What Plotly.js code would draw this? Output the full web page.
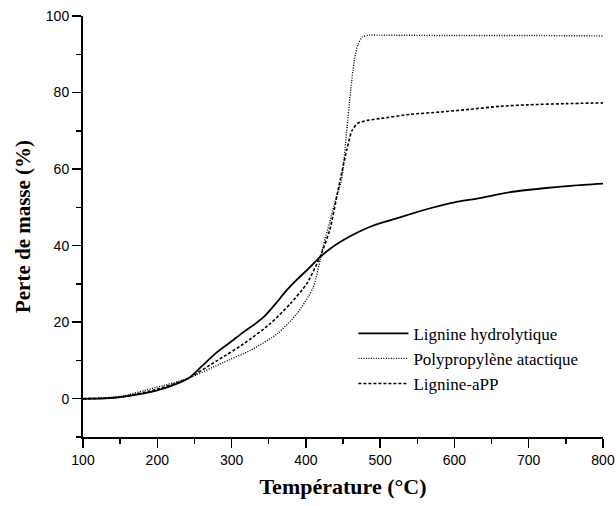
<!DOCTYPE html>
<html>
<head>
<meta charset="utf-8">
<script src="https://cdn.plot.ly/plotly-3.0.1.min.js"></script>
<style>html,body{margin:0;padding:0;background:#fff;}#chart{width:616px;height:506px;}</style>
</head>
<body>
<div id="chart"></div>
<script>
// Lignine hydrolytique (solid)
const ligT = [100,130,160,200,230,244,260,280,300,316,330,343,360,374,390,401,419,435,450,470,490,513,540,570,600,634,675,720,760,800];
const ligV = [0,0.1,0.7,2.2,4.2,5.6,8.5,12.1,15,17.4,19.3,21.3,25,28.3,31.5,33.5,37,39.5,41.4,43.5,45.2,46.6,48.2,49.9,51.3,52.4,54,55,55.7,56.2];
// Polypropylène atactique (dotted)
const ppT = [100,150,199,240,289,325,361,388,410,423,432,441,448,455,460,465,470,476,485,500,600,700,800];
const ppV = [0,0.6,3.0,5.2,9.5,12.6,16.9,22.2,29.1,39.6,46,52.7,57,70,80,88,92.5,94.5,95,95,94.9,94.9,94.8];
// Lignine-aPP (dashed)
const mixT = [100,150,200,240,280,316,352,379,401,419,432,446,455,462,470,485,500,540,580,620,661,700,750,800];
const mixV = [0,0.4,2.5,5.2,9.9,14.3,19.6,24.8,30,37,44,57,65,70,72,72.8,73.2,74.3,74.9,75.6,76.4,76.8,77.1,77.3];

const names = ['Lignine hydrolytique','Polypropylène atactique','Lignine-aPP'];
const xTicks = [100,200,300,400,500,600,700,800];
const yTicks = [0,20,40,60,80,100];

const traces = [
  {x: ligT, y: ligV, name: names[0], mode: 'lines', line: {color: '#000', width: 1.8, shape: 'spline', smoothing: 0.6}},
  {x: ppT, y: ppV, name: names[1], mode: 'lines', line: {color: '#000', width: 1.4, dash: '1px,1.5px', shape: 'spline', smoothing: 0.6}},
  {x: mixT, y: mixV, name: names[2], mode: 'lines', line: {color: '#000', width: 1.6, dash: '3px,2px', shape: 'spline', smoothing: 0.6}}
];

const axisCommon = {
  showgrid: false, zeroline: false, showline: true, linecolor: '#000', linewidth: 2,
  ticks: 'outside', ticklen: 9, tickwidth: 1.5, tickcolor: '#000',
  tickfont: {family: 'Liberation Sans, Arial, sans-serif', size: 14, color: '#000'}
};

const layout = {
  width: 616, height: 506,
  margin: {l: 83, r: 13, t: 16, b: 69},
  paper_bgcolor: '#fff', plot_bgcolor: '#fff',
  showlegend: true,
  legend: {x: 0.52, y: 0.288, xanchor: 'left', yanchor: 'top', bgcolor: 'rgba(0,0,0,0)', itemwidth: 50,
           font: {family: 'Liberation Serif, Times New Roman, serif', size: 17, color: '#000'}},
  xaxis: Object.assign({}, axisCommon, {
    range: [100, 800], tickvals: xTicks, ticktext: xTicks.map(String),
    minor: {dtick: 50, tick0: 100, ticks: 'outside', ticklen: 5, tickwidth: 1.5, tickcolor: '#000'},
    title: {text: 'Température (°C)', standoff: 12, font: {family: 'Liberation Serif, Times New Roman, serif', size: 22, color: '#000', weight: 'bold'}}
  }),
  yaxis: Object.assign({}, axisCommon, {
    range: [-10, 100], tickvals: yTicks, ticktext: yTicks.map(String),
    minor: {dtick: 10, tick0: 0, ticks: 'outside', ticklen: 5, tickwidth: 1.5, tickcolor: '#000'},
    title: {text: 'Perte de masse (%)', standoff: 9, font: {family: 'Liberation Serif, Times New Roman, serif', size: 21, color: '#000', weight: 'bold'}}
  })
};

Plotly.newPlot('chart', traces, layout, {displayModeBar: false, staticPlot: true});
</script>
</body>
</html>
